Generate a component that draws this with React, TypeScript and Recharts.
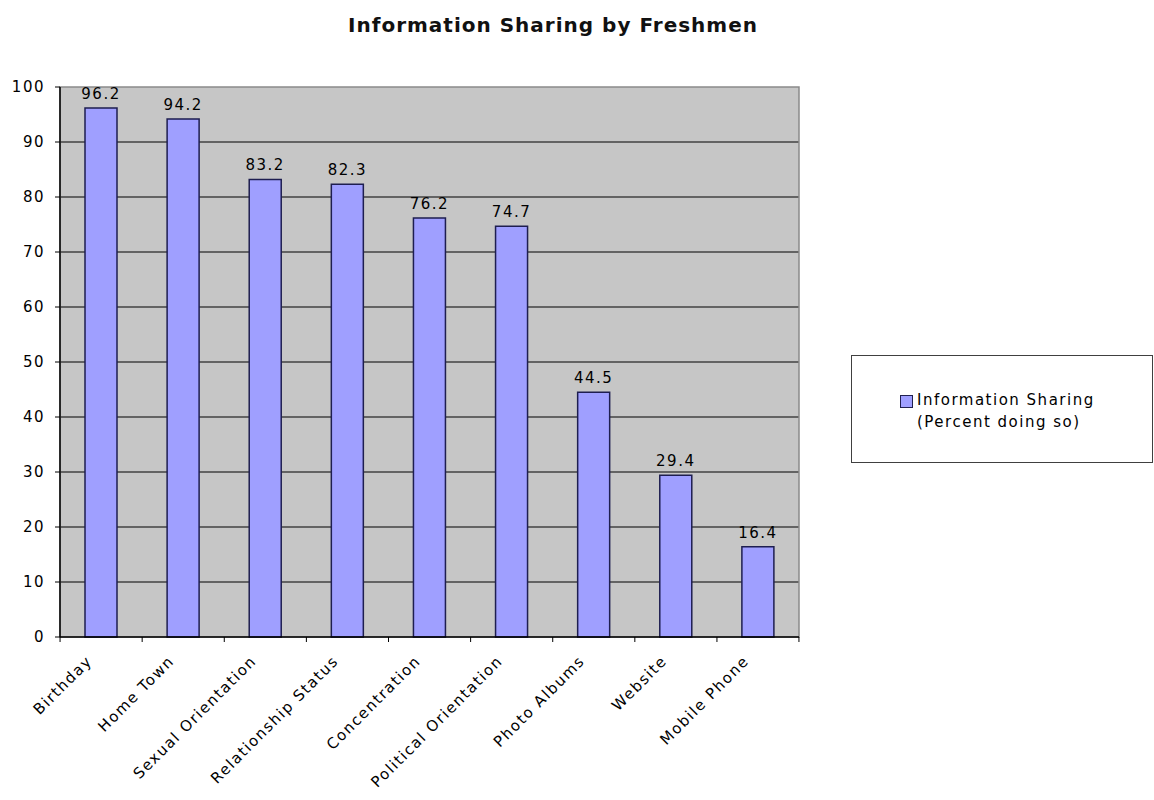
import React from "react";
import {
  BarChart,
  Bar,
  XAxis,
  YAxis,
  CartesianGrid,
  LabelList,
  ReferenceArea,
} from "recharts";

const categories = [
  "Birthday",
  "Home Town",
  "Sexual Orientation",
  "Relationship Status",
  "Concentration",
  "Political Orientation",
  "Photo Albums",
  "Website",
  "Mobile Phone",
];
const sharingValues = [96.2, 94.2, 83.2, 82.3, 76.2, 74.7, 44.5, 29.4, 16.4];
const yTicks = [0, 10, 20, 30, 40, 50, 60, 70, 80, 90, 100];
const gridValues = [10, 20, 30, 40, 50, 60, 70, 80, 90];
const seriesName = ["Information Sharing", "(Percent doing so)"];

const data = categories.map((c, i) => ({ name: c, value: sharingValues[i] }));

const FONT = "'DejaVu Sans', Verdana, sans-serif";
const HALF_BAND = 41;

const XTick = (props: any) => {
  const { x, y, payload, index } = props;
  const ay = y;
  return (
    <g>
      <line x1={x - HALF_BAND} y1={ay} x2={x - HALF_BAND} y2={ay + 5} stroke="#000" strokeWidth={1} />
      {index === categories.length - 1 && (
        <line x1={x + HALF_BAND} y1={ay} x2={x + HALF_BAND} y2={ay + 5} stroke="#000" strokeWidth={1} />
      )}
      <text
        x={x - 8}
        y={ay + 25}
        textAnchor="end"
        transform={`rotate(-45 ${x - 8} ${ay + 25})`}
        fontFamily={FONT}
        fontSize={15}
        letterSpacing={1.5}
        fill="#000"
      >
        {payload.value}
      </text>
    </g>
  );
};

const LegendBox = () => (
  <div
    style={{
      position: "absolute",
      left: 851,
      top: 355,
      width: 300,
      height: 106,
      border: "1px solid #404040",
      background: "#fff",
      fontFamily: FONT,
      fontSize: 15,
      letterSpacing: 1.5,
      color: "#000",
    }}
  >
    <div
      style={{
        position: "absolute",
        left: 48,
        top: 39,
        width: 11,
        height: 11,
        background: "#9F9FFF",
        border: "1px solid #202050",
      }}
    />
    <div style={{ position: "absolute", left: 65, top: 33, lineHeight: "22px", whiteSpace: "nowrap" }}>
      {seriesName[0]}
      <br />
      {seriesName[1]}
    </div>
  </div>
);

export default function App() {
  return (
    <div
      style={{
        position: "absolute",
        left: 0,
        top: 0,
        width: 1154,
        height: 800,
        background: "#fff",
        overflow: "hidden",
      }}
    >
      <div
        style={{
          position: "absolute",
          left: 0,
          width: 1106,
          top: 13,
          textAlign: "center",
          fontFamily: FONT,
          fontWeight: "bold",
          fontSize: 20,
          letterSpacing: 1,
          color: "#111",
        }}
      >
        Information Sharing by Freshmen
      </div>
      <BarChart
        width={1154}
        height={800}
        data={data}
        margin={{ top: 87, right: 355, bottom: 133, left: 10 }}
        barSize={32}
      >
        <CartesianGrid
          vertical={false}
          horizontalValues={gridValues}
          stroke="#000"
          strokeWidth={1}
          fill="#C6C6C6"
          fillOpacity={1}
        />
        <ReferenceArea y1={0} y2={100} fill="none" stroke="#8A8A8A" strokeWidth={1.5} ifOverflow="visible" />
        <XAxis
          dataKey="name"
          interval={0}
          height={30}
          axisLine={{ stroke: "#000", strokeWidth: 1.5 }}
          tickLine={false}
          tickSize={0}
          tickMargin={0}
          tick={<XTick />}
        />
        <YAxis
          width={50}
          domain={[0, 100]}
          ticks={yTicks}
          interval={0}
          axisLine={{ stroke: "#000", strokeWidth: 1.5 }}
          tickLine={{ stroke: "#000" }}
          tickSize={5}
          tickMargin={10}
          tick={{ fontFamily: FONT, fontSize: 15, letterSpacing: 1.5, fill: "#000" }}
        />
        <Bar
          dataKey="value"
          name="Information Sharing (Percent doing so)"
          fill="#9F9FFF"
          stroke="#1E1E50"
          strokeWidth={1.5}
          isAnimationActive={false}
        >
          <LabelList
            dataKey="value"
            position="top"
            offset={9}
            fill="#000"
            fontFamily={FONT}
            fontSize={15}
            letterSpacing={1.5}
          />
        </Bar>
      </BarChart>
      <LegendBox />
    </div>
  );
}
